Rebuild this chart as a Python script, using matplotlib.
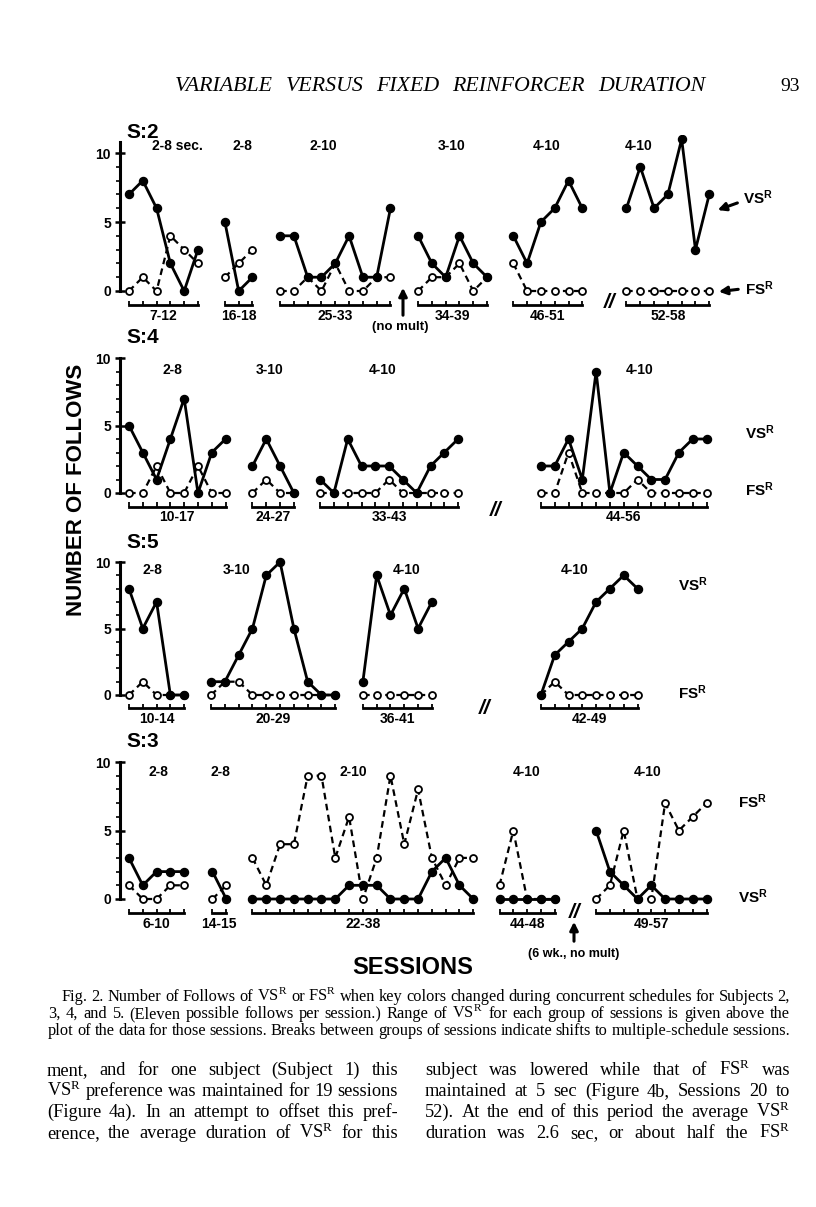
import matplotlib
matplotlib.use('Agg')
import matplotlib.pyplot as plt

plt.rcParams['mathtext.default'] = 'regular'
SANS = 'Liberation Sans'
SERIF = 'Liberation Serif'

# ---- data: number of follows per session, one list per group of sessions ----
# Subject 2
s2_groups = ['7-12', '16-18', '25-33', '34-39', '46-51', '52-58']
s2_ranges = ['2-8 sec.', '2-8', '2-10', '3-10', '4-10', '4-10']
s2_vs = [[7, 8, 6, 2, 0, 3], [5, 0, 1], [4, 4, 1, 1, 2, 4, 1, 1, 6],
         [4, 2, 1, 4, 2, 1], [4, 2, 5, 6, 8, 6], [6, 9, 6, 7, 11, 3, 7]]
s2_fs = [[0, 1, 0, 4, 3, 2], [1, 2, 3], [0, 0, 1, 0, 2, 0, 0, 1, 1],
         [0, 1, 1, 2, 0, 1], [2, 0, 0, 0, 0, 0], [0, 0, 0, 0, 0, 0, 0]]

# Subject 4
s4_groups = ['10-17', '24-27', '33-43', '44-56']
s4_ranges = ['2-8', '3-10', '4-10', '4-10']
s4_vs = [[5, 3, 1, 4, 7, 0, 3, 4], [2, 4, 2, 0], [1, 0, 4, 2, 2, 2, 1, 0, 2, 3, 4],
         [2, 2, 4, 1, 9, 0, 3, 2, 1, 1, 3, 4, 4]]
s4_fs = [[0, 0, 2, 0, 0, 2, 0, 0], [0, 1, 0, 0], [0, 0, 0, 0, 0, 1, 0, 0, 0, 0, 0],
         [0, 0, 3, 0, 0, 0, 0, 1, 0, 0, 0, 0, 0]]

# Subject 5
s5_groups = ['10-14', '20-29', '36-41', '42-49']
s5_ranges = ['2-8', '3-10', '4-10', '4-10']
s5_vs = [[8, 5, 7, 0, 0], [1, 1, 3, 5, 9, 10, 5, 1, 0, 0], [1, 9, 6, 8, 5, 7],
         [0, 3, 4, 5, 7, 8, 9, 8]]
s5_fs = [[0, 1, 0, 0, 0], [0, 1, 1, 0, 0, 0, 0, 0, 0, 0], [0, 0, 0, 0, 0, 0],
         [0, 1, 0, 0, 0, 0, 0, 0]]

# Subject 3
s3_groups = ['6-10', '14-15', '22-38', '44-48', '49-57']
s3_ranges = ['2-8', '2-8', '2-10', '4-10', '4-10']
s3_vs = [[3, 1, 2, 2, 2], [2, 0], [0, 0, 0, 0, 0, 0, 0, 1, 1, 1, 0, 0, 0, 2, 3, 1, 0],
         [0, 0, 0, 0, 0], [5, 2, 1, 0, 1, 0, 0, 0, 0]]
s3_fs = [[1, 0, 0, 1, 1], [0, 1], [3, 1, 4, 4, 9, 9, 3, 6, 0, 3, 9, 4, 8, 3, 1, 3, 3],
         [1, 5, 0, 0, 0], [0, 1, 5, 0, 0, 7, 5, 6, 7]]

# ---- page layout (pixels) ----
W, H = 816, 1207
fig = plt.figure(figsize=(W / 100, H / 100), dpi=100)


def fx(x):
    return x / W


def fy(y):
    return 1 - y / H


SLOT = 13.8  # px per session


def panel(name, y0, u, starts, groups, ranges, range_x, range_y, vs, fs, top=10):
    ax = fig.add_axes([fx(120), fy(y0 + 0.5 * u), 680 / W, 11.8 * u / H])
    ax.set_xlim(0, 680 / SLOT)
    ax.set_ylim(-0.5, 11.3)
    for s in ['top', 'right', 'bottom']:
        ax.spines[s].set_visible(False)
    ax.spines['left'].set_bounds(0, top)
    ax.spines['left'].set_linewidth(2.2)
    ax.set_xticks([])
    ax.set_yticks([0, 5, 10])
    ax.set_yticks(range(11), minor=True)
    ax.tick_params(axis='y', which='major', direction='inout', length=7, width=1.8, pad=3,
                   labelsize=10)
    ax.tick_params(axis='y', which='minor', direction='out', length=3, width=1.2)
    for lab in ax.get_yticklabels():
        lab.set_fontweight('bold')
        lab.set_family(SANS)
    ax.patch.set_alpha(0)

    for i in range(len(groups)):
        xs = [starts[i] + k for k in range(len(vs[i]))]
        ax.plot(xs, fs[i], color='k', lw=1.6, ls=(0, (3, 2)), marker='o', ms=5,
                mfc='white', mec='k', mew=1.3, zorder=3)
        ax.plot(xs, vs[i], color='k', lw=2.0, marker='o', ms=5.8, zorder=4)
        # session bracket under each group
        ax.plot([xs[0], xs[-1]], [-1, -1], color='k', lw=2, clip_on=False)
        ax.vlines(xs, -1, -0.7, color='k', lw=1.3, clip_on=False)
        ax.text((xs[0] + xs[-1]) / 2, -1.8, groups[i], ha='center', va='center',
                fontsize=10, weight='bold', family=SANS, clip_on=False)
        fig.text(fx(range_x[i]), fy(range_y), ranges[i], ha='center', va='center',
                 fontsize=10, weight='bold', family=SANS)
    fig.text(fx(126), fy(y0 - 11.5 * u), name, fontsize=15, weight='bold', family=SANS,
             va='center')
    return ax


panel('S:2', 291, 13.8, [0.65, 7.6, 11.6, 21.6, 28.5, 36.7], s2_groups, s2_ranges,
      [177, 242, 323, 452, 547, 639], 146, s2_vs, s2_fs, top=10.8)
panel('S:4', 493, 13.5, [0.65, 9.6, 14.5, 30.5], s4_groups, s4_ranges,
      [172, 270, 383, 640], 370, s4_vs, s4_fs)
panel('S:5', 695, 13.3, [0.65, 6.6, 17.6, 30.5], s5_groups, s5_ranges,
      [152, 237, 407, 575], 570, s5_vs, s5_fs)
panel('S:3', 899, 13.7, [0.65, 6.7, 9.6, 27.5, 34.5], s3_groups, s3_ranges,
      [158, 220, 353, 527, 648], 772, s3_vs, s3_fs)

bold = dict(weight='bold', family=SANS)
arrow = dict(arrowstyle='-|>', color='k', lw=2.2, mutation_scale=12)

# S:2 side labels
fig.text(fx(743), fy(198), 'VS$^{R}$', fontsize=11, va='center', **bold)
fig.text(fx(745), fy(289), 'FS$^{R}$', fontsize=11, va='center', **bold)
fig.add_artist(matplotlib.patches.FancyArrowPatch((fx(740), fy(202)), (fx(715), fy(211)),
               transform=fig.transFigure, **arrow))
fig.add_artist(matplotlib.patches.FancyArrowPatch((fx(741), fy(289)), (fx(716), fy(292)),
               transform=fig.transFigure, **arrow))
# other side labels
for x, y, s in [(745, 433, 'VS$^{R}$'), (745, 490, 'FS$^{R}$'),
                (678, 585, 'VS$^{R}$'), (678, 693, 'FS$^{R}$'),
                (738, 802, 'FS$^{R}$'), (738, 897, 'VS$^{R}$')]:
    fig.text(fx(x), fy(y), s, fontsize=11, va='center', **bold)

# breaks
for x, y in [(610, 302), (496, 510), (485, 709), (575, 913)]:
    fig.text(fx(x), fy(y), '//', fontsize=15, style='italic', ha='center', va='center', **bold)

# "no mult" arrows
fig.add_artist(matplotlib.patches.FancyArrowPatch((fx(403), fy(318)), (fx(403), fy(285)),
               transform=fig.transFigure, **arrow))
fig.text(fx(400), fy(327), '(no mult)', fontsize=9.5, ha='center', va='center', **bold)
fig.add_artist(matplotlib.patches.FancyArrowPatch((fx(574), fy(944)), (fx(574), fy(919)),
               transform=fig.transFigure, **arrow))
fig.text(fx(574), fy(954), '(6 wk., no mult)', fontsize=9, ha='center', va='center', **bold)

# axis titles
fig.text(fx(76), fy(490), 'NUMBER OF FOLLOWS', rotation=90, fontsize=16, ha='center',
         va='center', **bold)
fig.text(fx(413), fy(968), 'SESSIONS', fontsize=17, ha='center', va='center', **bold)


# ---- page text (justified lines, one font size per block) ----
renderer = fig.canvas.get_renderer()


def word_widths(words, size, **kw):
    ts = [fig.text(0, 0, w, fontsize=size, family=SERIF, **kw) for w in words]
    ws = [t.get_window_extent(renderer).width for t in ts]
    for t in ts:
        t.remove()
    return ws


def fit_size(lines, size, mingap, **kw):
    # largest size for which every line fits with at least mingap between words
    while size > 6:
        ok = True
        for line, x0, x1 in lines:
            words = line.split()
            ws = word_widths(words, size, **kw)
            if (x1 - x0 - sum(ws)) / max(len(ws) - 1, 1) < mingap:
                ok = False
                break
        if ok:
            return size
        size -= 0.25
    return size


def justify(line, x0, x1, y, size, **kw):
    words = line.split()
    ws = word_widths(words, size, **kw)
    gap = (x1 - x0 - sum(ws)) / max(len(ws) - 1, 1)
    x = x0
    for w, wd in zip(words, ws):
        fig.text(fx(x), fy(y), w, fontsize=size, family=SERIF, va='baseline', **kw)
        x += wd + gap


head = [('VARIABLE VERSUS FIXED REINFORCER DURATION', 175, 705)]
hs = fit_size(head, 17, 11, style='italic')
justify(head[0][0], 175, 705, 91, hs, style='italic')
fig.text(fx(790), fy(91), '93', fontsize=14, family=SERIF, ha='center', va='baseline')

caption = [
    ('Fig. 2. Number of Follows of VS$^{R}$ or FS$^{R}$ when key colors changed during '
     'concurrent schedules for Subjects 2,', 62, 790),
    ('3, 4, and 5. (Eleven possible follows per session.) Range of VS$^{R}$ for each group '
     'of sessions is given above the', 48, 790),
    ('plot of the data for those sessions. Breaks between groups of sessions indicate '
     'shifts to multiple-schedule sessions.', 48, 790),
]
cs = fit_size(caption, 12.5, 3.3)
for k, (line, x0, x1) in enumerate(caption):
    justify(line, x0, x1, 1001 + 17 * k, cs)

body = [
    'ment, and for one subject (Subject 1) this',
    'VS$^{R}$ preference was maintained for 19 sessions',
    '(Figure 4a). In an attempt to offset this pref-',
    'erence, the average duration of VS$^{R}$ for this',
    'subject was lowered while that of FS$^{R}$ was',
    'maintained at 5 sec (Figure 4b, Sessions 20 to',
    '52). At the end of this period the average VS$^{R}$',
    'duration was 2.6 sec, or about half the FS$^{R}$',
]
body_lines = [(l, 47, 398) for l in body[:4]] + [(l, 425, 790) for l in body[4:]]
bs = fit_size(body_lines, 14, 4)
for k, (line, x0, x1) in enumerate(body_lines):
    justify(line, x0, x1, 1075 + 21 * (k % 4), bs)

fig.savefig('out.png', dpi=100, facecolor='white')
